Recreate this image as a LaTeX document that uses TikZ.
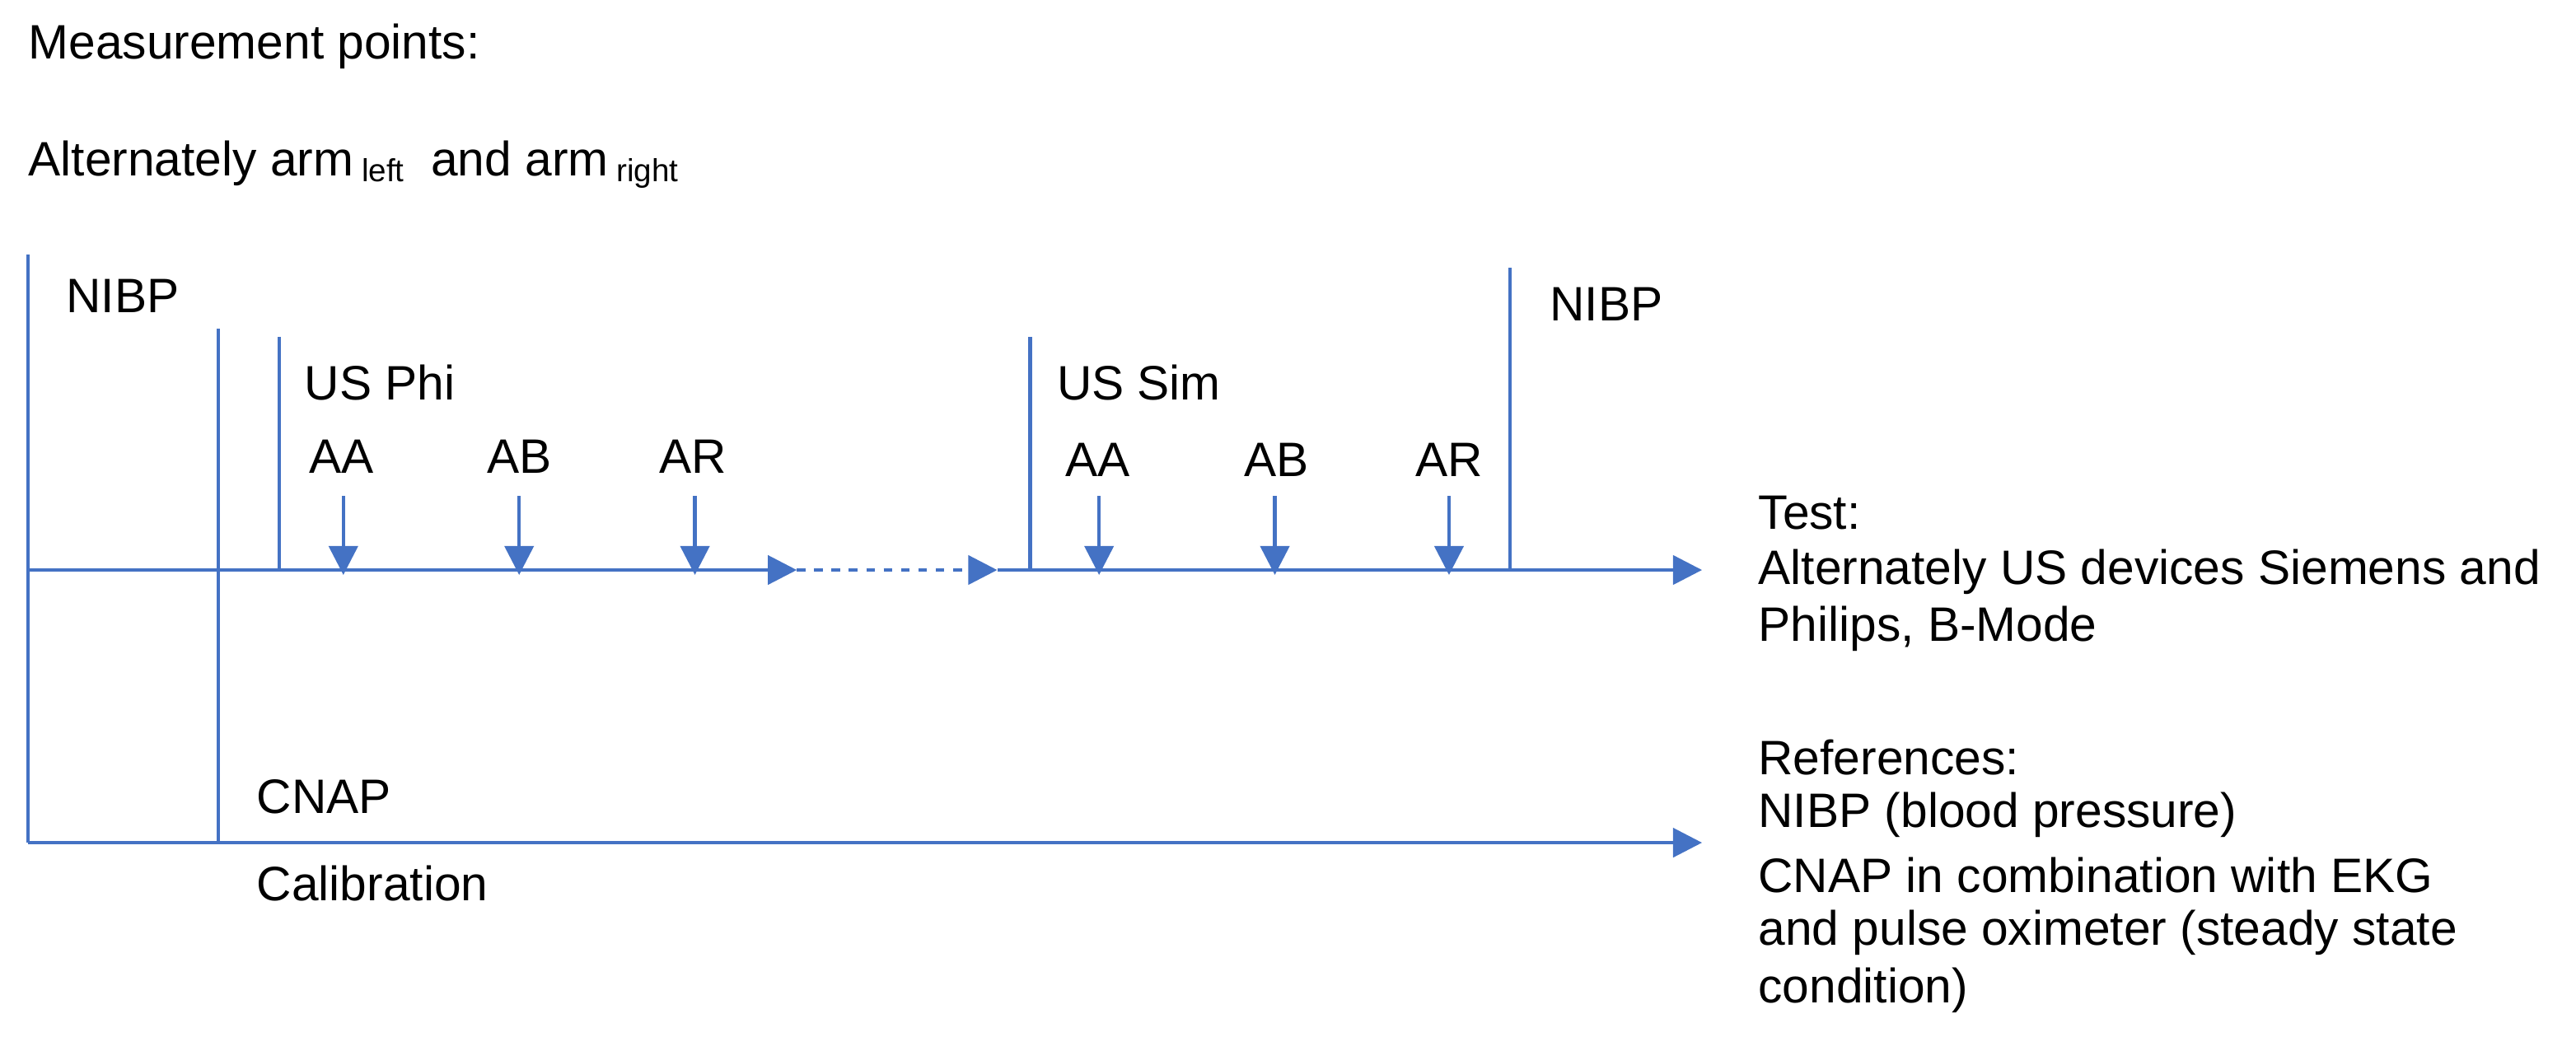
\documentclass[tikz,border=0pt]{standalone}
\usepackage{fontspec}
\setmainfont{Liberation Sans}
\usetikzlibrary{arrows.meta}
\definecolor{ln}{HTML}{4472C4}
\begin{document}
\begin{tikzpicture}[x=0.01994cm,y=-0.01994cm,
  lbl/.style={inner sep=0pt,anchor=west,font=\fontsize{16.7pt}{19pt}\selectfont},
  ctr/.style={inner sep=0pt,anchor=center,font=\fontsize{16.7pt}{19pt}\selectfont},
  ln/.style={draw=ln,line width=1.2pt},
  arr/.style={ln,-{Triangle[length=10pt,width=10pt]}}]
\useasboundingbox (0,0) rectangle (1568,631);
\node[lbl] (t1) at (17,28) {Measurement points:};
\node[lbl] (t2) at (17,100) {Alternately arm\,{\fontsize{11pt}{12pt}\selectfont\raisebox{-0.35ex}{left}}\ \ and arm\,{\fontsize{11pt}{12pt}\selectfont\raisebox{-0.35ex}{right}}};
% axes
\coordinate (a0) at (17,347); \coordinate (a1) at (485,347);
\coordinate (a2) at (607,347); \coordinate (a3) at (1036,347);
\coordinate (b0) at (17,513); \coordinate (b1) at (1036,513);
\draw[arr] (a0) -- (a1);
\draw[arr,dashed] (a1) -- (a2);
\draw[arr] (a2) -- (a3);
\draw[arr] (b0) -- (b1);
% verticals
\draw[ln] (17,155) -- (b0);
\draw[ln] (133,200) -- (133,513);
\draw[ln] (170,205) -- (170,347);
\draw[ln] (627,205) -- (627,347);
\draw[ln] (919,163) -- (919,347);
% small arrows
\foreach \x in {209,316,423,669,776,882}{\draw[arr] (\x,302) -- (\x,350);}
% labels
\node[lbl] (n1) at (40,180) {NIBP};
\node[lbl] (p) at (185,233) {US Phi};
\node[ctr] (aa1) at (208,278) {AA};
\node[ctr] (ab1) at (316,278) {AB};
\node[ctr] (ar1) at (422,278) {AR};
\node[lbl] (s) at (643,233) {US Sim};
\node[ctr] (aa2) at (668,280) {AA};
\node[ctr] (ab2) at (777,280) {AB};
\node[ctr] (ar2) at (882,280) {AR};
\node[lbl] (n2) at (943,185) {NIBP};
\node[lbl] (c) at (156,485) {CNAP};
\node[lbl] (cal) at (156,538) {Calibration};
\node[lbl] at (1070,312) {Test:};
\node[lbl] at (1070,348) {Alternately US devices Siemens and};
\node[lbl] at (1070,383) {Philips, B-Mode};
\node[lbl] at (1070,461) {References:};
\node[lbl] at (1070,496) {NIBP (blood pressure)};
\node[lbl] at (1070,533) {CNAP in combination with EKG};
\node[lbl] at (1070,568) {and pulse oximeter (steady state};
\node[lbl] at (1070,603) {condition)};
\end{tikzpicture}
\end{document}
